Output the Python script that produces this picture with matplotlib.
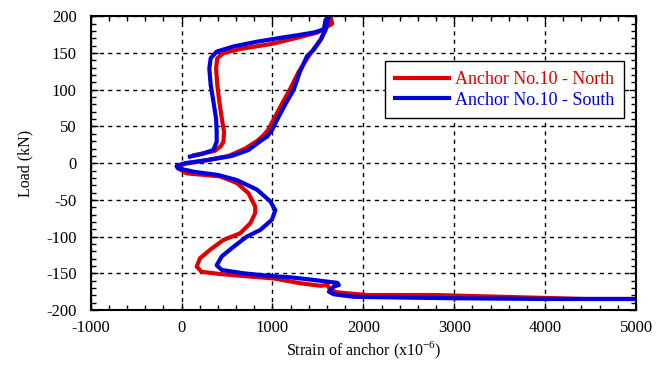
import matplotlib
matplotlib.use("Agg")
import matplotlib.pyplot as plt
from matplotlib.ticker import MultipleLocator

plt.rcParams['font.family'] = ['Liberation Serif', 'DejaVu Serif']
plt.rcParams['mathtext.fontset'] = 'custom'
plt.rcParams['mathtext.rm'] = 'Liberation Serif'
plt.rcParams['axes.unicode_minus'] = False

# Anchor No.10 - North (strain x1e-6, load kN)
north_strain = [140, 300, 368, 430, 460, 467, 442, 415, 393, 379, 393, 460, 644, 1012,
                1307, 1492, 1657, 1638, 1590, 1540, 1420, 1290, 1190, 1100, 1010, 950,
                900, 840, 700, 520, 270, 30, -50, -10, 55, 423, 608, 736, 810, 810, 755,
                644, 460, 313, 202, 166, 221, 423, 681, 1012, 1307, 1528, 1602, 1638,
                1713, 2044, 2780, 3517, 4436, 5000]
north_load = [11, 15, 17, 23, 29, 43, 61, 84, 106.5, 129, 143, 150, 155.6, 163,
              172, 178, 190, 200, 188, 170, 150, 125, 100, 80, 59, 45,
              38, 31, 20, 10, 4, -1, -5, -9, -13.8, -18, -27, -41, -59, -68, -82,
              -95.5, -104.6, -118, -129.6, -141, -148, -151, -153.7, -157, -163.6, -167, -166, -172.7,
              -176, -179.6, -179.6, -182, -185, -185]

# Anchor No.10 - South
south_strain = [92, 221, 350, 386, 386, 379, 350, 320, 305, 320, 386, 570, 829, 1050,
                1307, 1454, 1565, 1583, 1620, 1600, 1583, 1528, 1451, 1381, 1300, 1233,
                1140, 1050, 994, 939, 884, 800, 736, 552, 294, 36, -55, -40, 150, 400,
                608, 829, 976, 1031, 994, 865, 718, 570, 442, 386, 442, 681, 976, 1197,
                1381, 1713, 1730, 1675, 1620, 1675, 1896, 2412, 2998, 4014, 5000]
south_load = [9, 12.5, 18, 29, 43, 61, 84, 106.5, 129, 143, 152, 159, 165.5, 170,
              175, 178, 182, 195, 200, 190, 181, 168, 154, 146, 124, 100,
              80, 59, 45, 36, 31.6, 24, 18, 9.8, 4.4, 0, -3.8, -7, -12, -16,
              -23, -36, -52, -64, -77, -91, -100, -114, -127, -139, -145.5, -150, -153.7, -155.5,
              -158, -163, -166, -168, -175, -178.6, -182, -183, -184, -185, -185]

fig = plt.figure(figsize=(6.7, 3.65), dpi=100)
ax = fig.add_axes([0.1354, 0.1507, 0.8139, 0.8044])

ax.plot(north_strain, north_load, color='#e00000', lw=3, label='Anchor No.10 - North')
ax.plot(south_strain, south_load, color='#0000e0', lw=3, label='Anchor No.10 - South')

ax.set_xlim(-1000, 5000)
ax.set_ylim(-200, 200)
ax.xaxis.set_major_locator(MultipleLocator(1000))
ax.xaxis.set_minor_locator(MultipleLocator(200))
ax.yaxis.set_major_locator(MultipleLocator(50))
ax.yaxis.set_minor_locator(MultipleLocator(10))
ax.tick_params(which='both', direction='in', top=True, right=True, labelsize=12, colors='black')
ax.tick_params(which='major', length=5, width=1)
ax.tick_params(which='minor', length=3.5, width=1)
ax.tick_params(axis='x', which='major', pad=7)
ax.tick_params(axis='y', which='major', pad=10)
for s in ax.spines.values():
    s.set_linewidth(1.5)

ax.grid(True, which='major', color='black', linestyle=(0, (3, 3)), linewidth=1)

ax.set_xlabel('Strain of anchor (x10$^{\\mathregular{-6}}$)', fontsize=11.5, labelpad=3)
ax.set_ylabel('Load (kN)', fontsize=11.5, labelpad=9)

leg = ax.legend(loc='upper right', bbox_to_anchor=(0.978, 0.848), fontsize=13,
                handlelength=3.0, fancybox=False, framealpha=1, edgecolor='black',
                borderpad=0.55, labelspacing=0.2, handletextpad=0.3, borderaxespad=0)
leg.get_frame().set_linewidth(1)
for txt, c in zip(leg.get_texts(), ['#e00000', '#0000e0']):
    txt.set_color(c)

fig.savefig('out.png', dpi=100)
